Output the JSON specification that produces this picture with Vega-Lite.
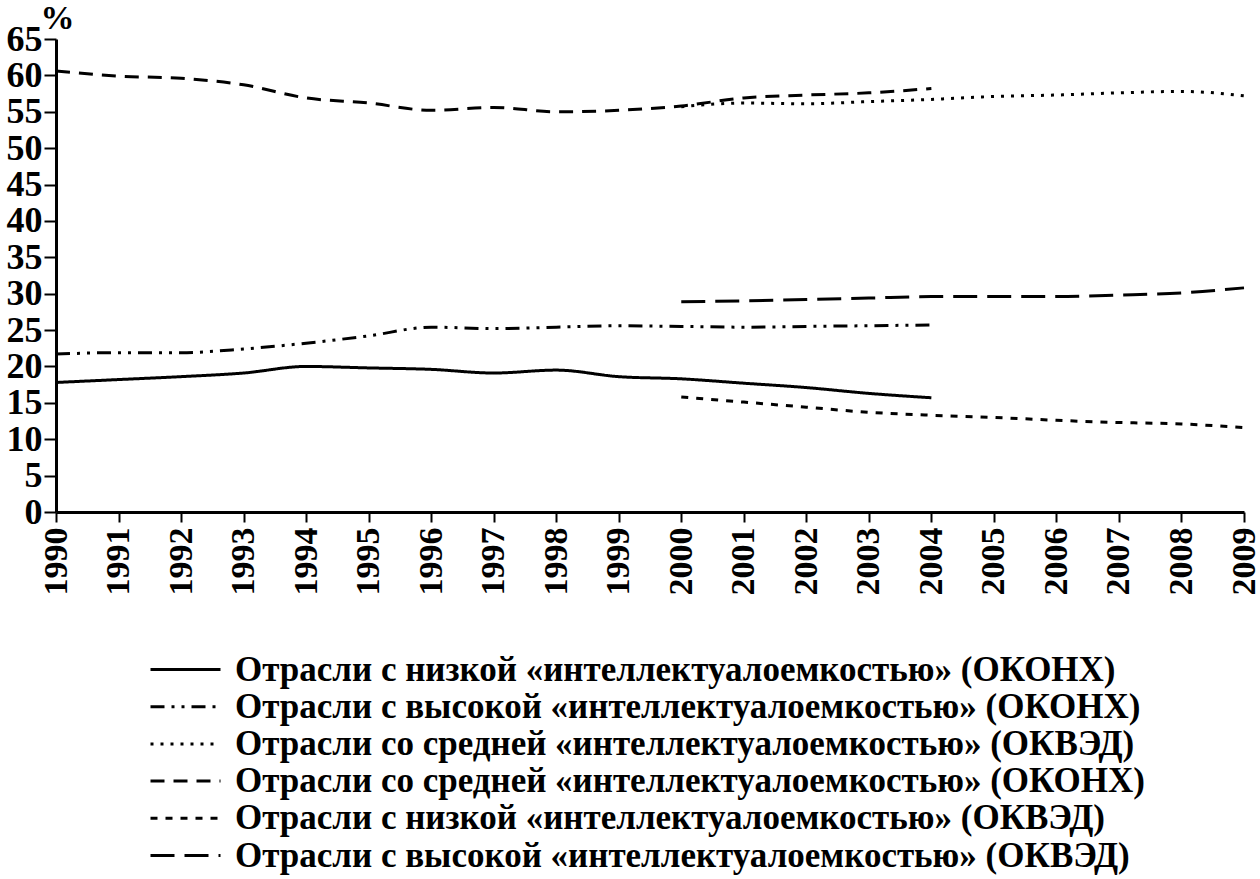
{
  "$schema": "https://vega.github.io/schema/vega-lite/v6.json",
  "width": 1188,
  "height": 473,
  "autosize": "none",
  "padding": {"left": 56, "top": 39, "right": 16, "bottom": 367},
  "background": "white",
  "data": {
    "values": [
      {"series": "Отрасли с низкой «интеллектуалоемкостью» (ОКОНХ)", "year": 1990, "value": 17.8},
      {"series": "Отрасли с низкой «интеллектуалоемкостью» (ОКОНХ)", "year": 1991, "value": 18.2},
      {"series": "Отрасли с низкой «интеллектуалоемкостью» (ОКОНХ)", "year": 1992, "value": 18.6},
      {"series": "Отрасли с низкой «интеллектуалоемкостью» (ОКОНХ)", "year": 1993, "value": 19.1},
      {"series": "Отрасли с низкой «интеллектуалоемкостью» (ОКОНХ)", "year": 1994, "value": 20.0},
      {"series": "Отрасли с низкой «интеллектуалоемкостью» (ОКОНХ)", "year": 1995, "value": 19.8},
      {"series": "Отрасли с низкой «интеллектуалоемкостью» (ОКОНХ)", "year": 1996, "value": 19.6},
      {"series": "Отрасли с низкой «интеллектуалоемкостью» (ОКОНХ)", "year": 1997, "value": 19.1},
      {"series": "Отрасли с низкой «интеллектуалоемкостью» (ОКОНХ)", "year": 1998, "value": 19.5},
      {"series": "Отрасли с низкой «интеллектуалоемкостью» (ОКОНХ)", "year": 1999, "value": 18.6},
      {"series": "Отрасли с низкой «интеллектуалоемкостью» (ОКОНХ)", "year": 2000, "value": 18.3},
      {"series": "Отрасли с низкой «интеллектуалоемкостью» (ОКОНХ)", "year": 2001, "value": 17.7},
      {"series": "Отрасли с низкой «интеллектуалоемкостью» (ОКОНХ)", "year": 2002, "value": 17.1},
      {"series": "Отрасли с низкой «интеллектуалоемкостью» (ОКОНХ)", "year": 2003, "value": 16.3},
      {"series": "Отрасли с низкой «интеллектуалоемкостью» (ОКОНХ)", "year": 2004, "value": 15.7},

      {"series": "Отрасли с высокой «интеллектуалоемкостью» (ОКОНХ)", "year": 1990, "value": 21.7},
      {"series": "Отрасли с высокой «интеллектуалоемкостью» (ОКОНХ)", "year": 1991, "value": 21.9},
      {"series": "Отрасли с высокой «интеллектуалоемкостью» (ОКОНХ)", "year": 1992, "value": 21.9},
      {"series": "Отрасли с высокой «интеллектуалоемкостью» (ОКОНХ)", "year": 1993, "value": 22.4},
      {"series": "Отрасли с высокой «интеллектуалоемкостью» (ОКОНХ)", "year": 1994, "value": 23.2},
      {"series": "Отрасли с высокой «интеллектуалоемкостью» (ОКОНХ)", "year": 1995, "value": 24.2},
      {"series": "Отрасли с высокой «интеллектуалоемкостью» (ОКОНХ)", "year": 1996, "value": 25.4},
      {"series": "Отрасли с высокой «интеллектуалоемкостью» (ОКОНХ)", "year": 1997, "value": 25.2},
      {"series": "Отрасли с высокой «интеллектуалоемкостью» (ОКОНХ)", "year": 1998, "value": 25.4},
      {"series": "Отрасли с высокой «интеллектуалоемкостью» (ОКОНХ)", "year": 1999, "value": 25.6},
      {"series": "Отрасли с высокой «интеллектуалоемкостью» (ОКОНХ)", "year": 2000, "value": 25.5},
      {"series": "Отрасли с высокой «интеллектуалоемкостью» (ОКОНХ)", "year": 2001, "value": 25.4},
      {"series": "Отрасли с высокой «интеллектуалоемкостью» (ОКОНХ)", "year": 2002, "value": 25.5},
      {"series": "Отрасли с высокой «интеллектуалоемкостью» (ОКОНХ)", "year": 2003, "value": 25.6},
      {"series": "Отрасли с высокой «интеллектуалоемкостью» (ОКОНХ)", "year": 2004, "value": 25.7},

      {"series": "Отрасли со средней «интеллектуалоемкостью» (ОКВЭД)", "year": 2000, "value": 55.7},
      {"series": "Отрасли со средней «интеллектуалоемкостью» (ОКВЭД)", "year": 2001, "value": 56.2},
      {"series": "Отрасли со средней «интеллектуалоемкостью» (ОКВЭД)", "year": 2002, "value": 56.1},
      {"series": "Отрасли со средней «интеллектуалоемкостью» (ОКВЭД)", "year": 2003, "value": 56.4},
      {"series": "Отрасли со средней «интеллектуалоемкостью» (ОКВЭД)", "year": 2004, "value": 56.7},
      {"series": "Отрасли со средней «интеллектуалоемкостью» (ОКВЭД)", "year": 2005, "value": 57.1},
      {"series": "Отрасли со средней «интеллектуалоемкостью» (ОКВЭД)", "year": 2006, "value": 57.3},
      {"series": "Отрасли со средней «интеллектуалоемкостью» (ОКВЭД)", "year": 2007, "value": 57.6},
      {"series": "Отрасли со средней «интеллектуалоемкостью» (ОКВЭД)", "year": 2008, "value": 57.8},
      {"series": "Отрасли со средней «интеллектуалоемкостью» (ОКВЭД)", "year": 2009, "value": 57.2},

      {"series": "Отрасли со средней «интеллектуалоемкостью» (ОКОНХ)", "year": 1990, "value": 60.6},
      {"series": "Отрасли со средней «интеллектуалоемкостью» (ОКОНХ)", "year": 1991, "value": 59.9},
      {"series": "Отрасли со средней «интеллектуалоемкостью» (ОКОНХ)", "year": 1992, "value": 59.6},
      {"series": "Отрасли со средней «интеллектуалоемкостью» (ОКОНХ)", "year": 1993, "value": 58.7},
      {"series": "Отрасли со средней «интеллектуалоемкостью» (ОКОНХ)", "year": 1994, "value": 56.9},
      {"series": "Отрасли со средней «интеллектуалоемкостью» (ОКОНХ)", "year": 1995, "value": 56.2},
      {"series": "Отрасли со средней «интеллектуалоемкостью» (ОКОНХ)", "year": 1996, "value": 55.2},
      {"series": "Отрасли со средней «интеллектуалоемкостью» (ОКОНХ)", "year": 1997, "value": 55.6},
      {"series": "Отрасли со средней «интеллектуалоемкостью» (ОКОНХ)", "year": 1998, "value": 55.0},
      {"series": "Отрасли со средней «интеллектуалоемкостью» (ОКОНХ)", "year": 1999, "value": 55.2},
      {"series": "Отрасли со средней «интеллектуалоемкостью» (ОКОНХ)", "year": 2000, "value": 55.8},
      {"series": "Отрасли со средней «интеллектуалоемкостью» (ОКОНХ)", "year": 2001, "value": 56.9},
      {"series": "Отрасли со средней «интеллектуалоемкостью» (ОКОНХ)", "year": 2002, "value": 57.3},
      {"series": "Отрасли со средней «интеллектуалоемкостью» (ОКОНХ)", "year": 2003, "value": 57.6},
      {"series": "Отрасли со средней «интеллектуалоемкостью» (ОКОНХ)", "year": 2004, "value": 58.2},

      {"series": "Отрасли с низкой «интеллектуалоемкостью» (ОКВЭД)", "year": 2000, "value": 15.8},
      {"series": "Отрасли с низкой «интеллектуалоемкостью» (ОКВЭД)", "year": 2001, "value": 15.1},
      {"series": "Отрасли с низкой «интеллектуалоемкостью» (ОКВЭД)", "year": 2002, "value": 14.4},
      {"series": "Отрасли с низкой «интеллектуалоемкостью» (ОКВЭД)", "year": 2003, "value": 13.7},
      {"series": "Отрасли с низкой «интеллектуалоемкостью» (ОКВЭД)", "year": 2004, "value": 13.3},
      {"series": "Отрасли с низкой «интеллектуалоемкостью» (ОКВЭД)", "year": 2005, "value": 13.0},
      {"series": "Отрасли с низкой «интеллектуалоемкостью» (ОКВЭД)", "year": 2006, "value": 12.6},
      {"series": "Отрасли с низкой «интеллектуалоемкостью» (ОКВЭД)", "year": 2007, "value": 12.3},
      {"series": "Отрасли с низкой «интеллектуалоемкостью» (ОКВЭД)", "year": 2008, "value": 12.1},
      {"series": "Отрасли с низкой «интеллектуалоемкостью» (ОКВЭД)", "year": 2009, "value": 11.6},

      {"series": "Отрасли с высокой «интеллектуалоемкостью» (ОКВЭД)", "year": 2000, "value": 28.9},
      {"series": "Отрасли с высокой «интеллектуалоемкостью» (ОКВЭД)", "year": 2001, "value": 29.0},
      {"series": "Отрасли с высокой «интеллектуалоемкостью» (ОКВЭД)", "year": 2002, "value": 29.2},
      {"series": "Отрасли с высокой «интеллектуалоемкостью» (ОКВЭД)", "year": 2003, "value": 29.4},
      {"series": "Отрасли с высокой «интеллектуалоемкостью» (ОКВЭД)", "year": 2004, "value": 29.6},
      {"series": "Отрасли с высокой «интеллектуалоемкостью» (ОКВЭД)", "year": 2005, "value": 29.6},
      {"series": "Отрасли с высокой «интеллектуалоемкостью» (ОКВЭД)", "year": 2006, "value": 29.6},
      {"series": "Отрасли с высокой «интеллектуалоемкостью» (ОКВЭД)", "year": 2007, "value": 29.8},
      {"series": "Отрасли с высокой «интеллектуалоемкостью» (ОКВЭД)", "year": 2008, "value": 30.1},
      {"series": "Отрасли с высокой «интеллектуалоемкостью» (ОКВЭД)", "year": 2009, "value": 30.8}
    ]
  },
  "mark": {"type": "line", "color": "black", "strokeWidth": 3, "interpolate": "monotone"},
  "encoding": {
    "x": {
      "field": "year",
      "type": "quantitative",
      "scale": {"domain": [1990, 2009], "nice": false, "zero": false},
      "axis": {
        "title": null,
        "values": [1990, 1991, 1992, 1993, 1994, 1995, 1996, 1997, 1998, 1999, 2000, 2001, 2002, 2003, 2004, 2005, 2006, 2007, 2008, 2009],
        "format": "d",
        "labelAngle": -90,
        "labelPadding": 5,
        "labelFontSize": 34,
        "tickSize": 10,
        "grid": false
      }
    },
    "y": {
      "field": "value",
      "type": "quantitative",
      "scale": {"domain": [0, 65], "nice": false},
      "axis": {
        "title": "%",
        "titleAngle": 0,
        "titleAlign": "left",
        "titleBaseline": "alphabetic",
        "titleX": -16,
        "titleY": -11,
        "titleFont": "Liberation Serif",
        "titleFontSize": 34,
        "titleFontWeight": "bold",
        "values": [0, 5, 10, 15, 20, 25, 30, 35, 40, 45, 50, 55, 60, 65],
        "tickSize": 12,
        "labelPadding": 2,
        "labelFontSize": 36,
        "grid": false
      }
    },
    "strokeDash": {
      "field": "series",
      "type": "nominal",
      "scale": {
        "domain": [
          "Отрасли с низкой «интеллектуалоемкостью» (ОКОНХ)",
          "Отрасли с высокой «интеллектуалоемкостью» (ОКОНХ)",
          "Отрасли со средней «интеллектуалоемкостью» (ОКВЭД)",
          "Отрасли со средней «интеллектуалоемкостью» (ОКОНХ)",
          "Отрасли с низкой «интеллектуалоемкостью» (ОКВЭД)",
          "Отрасли с высокой «интеллектуалоемкостью» (ОКВЭД)"
        ],
        "range": [[1, 0], [14, 7, 3, 7, 3, 7], [3, 7], [14, 9], [7, 8], [24, 10]]
      },
      "legend": {
        "title": null,
        "orient": "none",
        "legendX": 112,
        "legendY": 613,
        "direction": "vertical",
        "symbolType": "M-5,0H5",
        "symbolSize": 196,
        "symbolStrokeWidth": 3,
        "symbolStrokeColor": "black",
        "symbolFillColor": "transparent",
        "labelFont": "Liberation Serif",
        "labelFontSize": 35,
        "labelFontWeight": "bold",
        "labelColor": "black",
        "labelLimit": 1200,
        "labelOffset": 32,
        "rowPadding": 1.2
      }
    }
  },
  "config": {
    "view": {"stroke": null},
    "axis": {
      "domainColor": "black",
      "domainWidth": 3,
      "tickColor": "black",
      "tickWidth": 2,
      "labelColor": "black",
      "labelFont": "Liberation Serif",
      "labelFontWeight": "bold",
      "titleColor": "black"
    }
  }
}
